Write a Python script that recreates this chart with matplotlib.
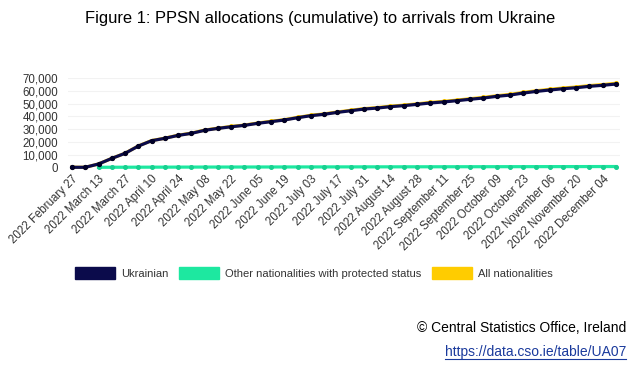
import numpy as np
import pandas as pd
import matplotlib
matplotlib.use("Agg")
import matplotlib.pyplot as plt

plt.rcParams["font.family"] = ["Liberation Sans", "DejaVu Sans"]

# Semanas (domingo) desde 2022-02-27 hasta 2022-12-11
semanas = pd.date_range("2022-02-27", "2022-12-11", freq="7D")

ucranianos = [
    0, 0, 2600, 7000, 11000, 16700, 20900, 22800, 25100, 26700,
    29100, 30600, 31900, 33000, 34600, 35900, 37200, 39000, 40600, 41700,
    43200, 44500, 45800, 46600, 47700, 48500, 49500, 50600, 51400, 52400,
    53500, 54500, 55800, 56800, 58400, 59700, 60800, 61800, 62600, 63700,
    64500, 65500,
]
otras = [
    None, None, 10, 30, 60, 90, 110, 130, 150, 170,
    190, 200, 210, 230, 240, 250, 270, 280, 290, 310,
    320, 330, 350, 360, 370, 390, 400, 410, 430, 440,
    450, 470, 480, 490, 510, 520, 530, 550, 560, 570,
    590, 600,
]
todas = [
    0, 0, 2610, 7030, 11060, 16790, 21010, 22930, 25250, 26870,
    29290, 30800, 32110, 33230, 34840, 36150, 37470, 39280, 40890, 42010,
    43520, 44830, 46150, 46960, 48070, 48890, 49900, 51010, 51830, 52840,
    53950, 54970, 56280, 57290, 58910, 60220, 61330, 62350, 63160, 64270,
    65090, 66100,
]
etiquetas = [f"2022 {d.strftime('%B')} {d.strftime('%d')}" for d in semanas]

COL_UKR = "#0b0b4b"
COL_OTR = "#1de8a0"
COL_ALL = "#ffcc00"

fig = plt.figure(figsize=(6.4, 3.69), dpi=100)
ax = fig.add_axes([68 / 640, 1 - 167.3 / 369, (620 - 68) / 640, (167.3 - 78.3) / 369])

x = np.arange(len(semanas))
otras_arr = np.array([np.nan if v is None else v for v in otras], dtype=float)

ax.plot(x, todas, color=COL_ALL, lw=2.3, marker="o", ms=2.6, mec=COL_ALL,
        zorder=3, clip_on=False)
ax.plot(x, otras_arr, color=COL_OTR, lw=2.3, marker="o", ms=2.6, mec="#18d090",
        mfc="#18d090", zorder=4, clip_on=False)
ax.plot(x, ucranianos, color=COL_UKR, lw=2.3, marker="o", ms=2.8, mec="#000028",
        mfc="#000028", zorder=5, clip_on=False)

ax.set_xlim(-0.3, len(semanas) - 0.7)
ax.set_ylim(0, 70000)
ax.set_yticks(np.arange(0, 70001, 10000))
ax.set_yticklabels([f"{v:,}" for v in range(0, 70001, 10000)], fontsize=8.3, color="#333333")
ax.set_xticks(x[:-1:2])
ax.set_xticklabels(etiquetas[:-1:2], rotation=45, ha="right", rotation_mode="anchor",
                   fontsize=8.3, color="#333333")
ax.tick_params(axis="y", length=0, pad=7)
ax.tick_params(axis="x", length=0, pad=4)
ax.grid(axis="y", color="#f2f2f2", lw=0.8)
ax.set_axisbelow(True)
for s in ax.spines.values():
    s.set_visible(False)

fig.text(0.5, 1 - 18 / 369, "Figure 1: PPSN allocations (cumulative) to arrivals from Ukraine",
         ha="center", va="center", fontsize=11.9, color="#000000")

# Leyenda
handles = [plt.Rectangle((0, 0), 1, 1, color=c) for c in (COL_UKR, COL_OTR, COL_ALL)]
fig.legend(handles, ["Ukrainian", "Other nationalities with protected status", "All nationalities"],
           loc="center", bbox_to_anchor=(314 / 640, 1 - 273 / 369), ncol=3, frameon=False,
           fontsize=8, handlelength=3.6, handleheight=1.2, columnspacing=1.0,
           handletextpad=0.5, labelcolor="#333333")

fig.text(626 / 640, 1 - 328 / 369, "© Central Statistics Office, Ireland",
         ha="right", va="center", fontsize=10, color="#000000")
fig.text(626 / 640, 1 - 352 / 369, "https://data.cso.ie/table/UA07",
         ha="right", va="center", fontsize=10, color="#1a3a9c")
fig.add_artist(plt.Line2D([445 / 640, 626 / 640], [1 - 359 / 369, 1 - 359 / 369],
                          color="#1a3a9c", lw=0.8))

fig.savefig("out.png", dpi=100)
